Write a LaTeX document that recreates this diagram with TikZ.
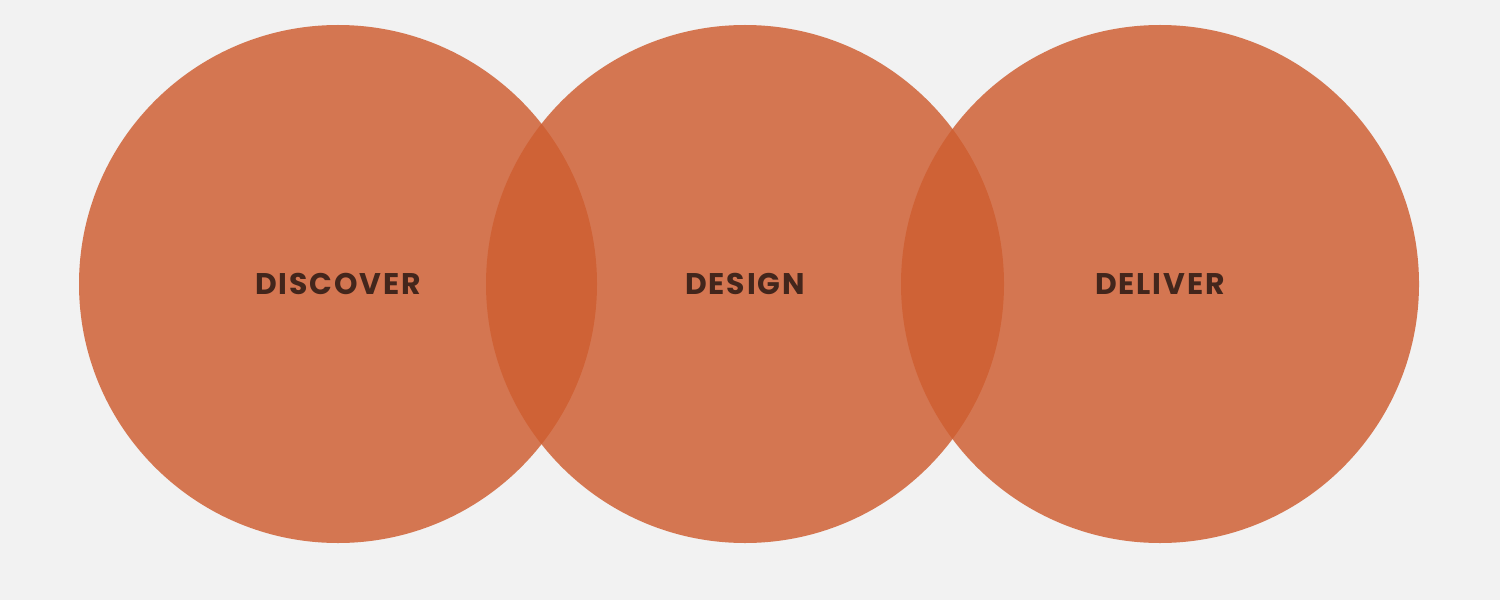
\documentclass[tikz,border=0pt]{standalone}
\usepackage{fontspec}
\setmainfont{Poppins}
\usetikzlibrary{positioning}

\definecolor{bgGray}{RGB}{242,242,242}
\definecolor{phaseOrange}{RGB}{207,94,49}
\definecolor{labelBrown}{RGB}{67,38,28}

\tikzset{
  phase/.style={circle, minimum size=10.36cm, inner sep=0pt, fill=phaseOrange, fill opacity=0.83, text opacity=1},
  phaselabel/.style={font=\bfseries\fontsize{17}{20}\selectfont\addfontfeatures{LetterSpace=6}, text=labelBrown}
}

\begin{document}
\begin{tikzpicture}

% Background and fixed bounding box
\fill[bgGray] (0,0) rectangle (30,12);
\useasboundingbox (0,0) rectangle (30,12);

% Define the centres of the three phases
\coordinate (Cdiscover) at (6.76,6.32);
\coordinate (Cdesign) at (14.90,6.32);
\coordinate (Cdeliver) at (23.20,6.32);

% Draw the overlapping circles
\node[phase] (discover) at (Cdiscover) {};
\node[phase] (design) at (Cdesign) {};
\node[phase] (deliver) at (Cdeliver) {};

% Label the phases
\node[phaselabel] (discoverLabel) at (discover.center) {DISCOVER};
\node[phaselabel] (designLabel) at (design.center) {DESIGN};
\node[phaselabel] (deliverLabel) at (deliver.center) {DELIVER};

\end{tikzpicture}
\end{document}
